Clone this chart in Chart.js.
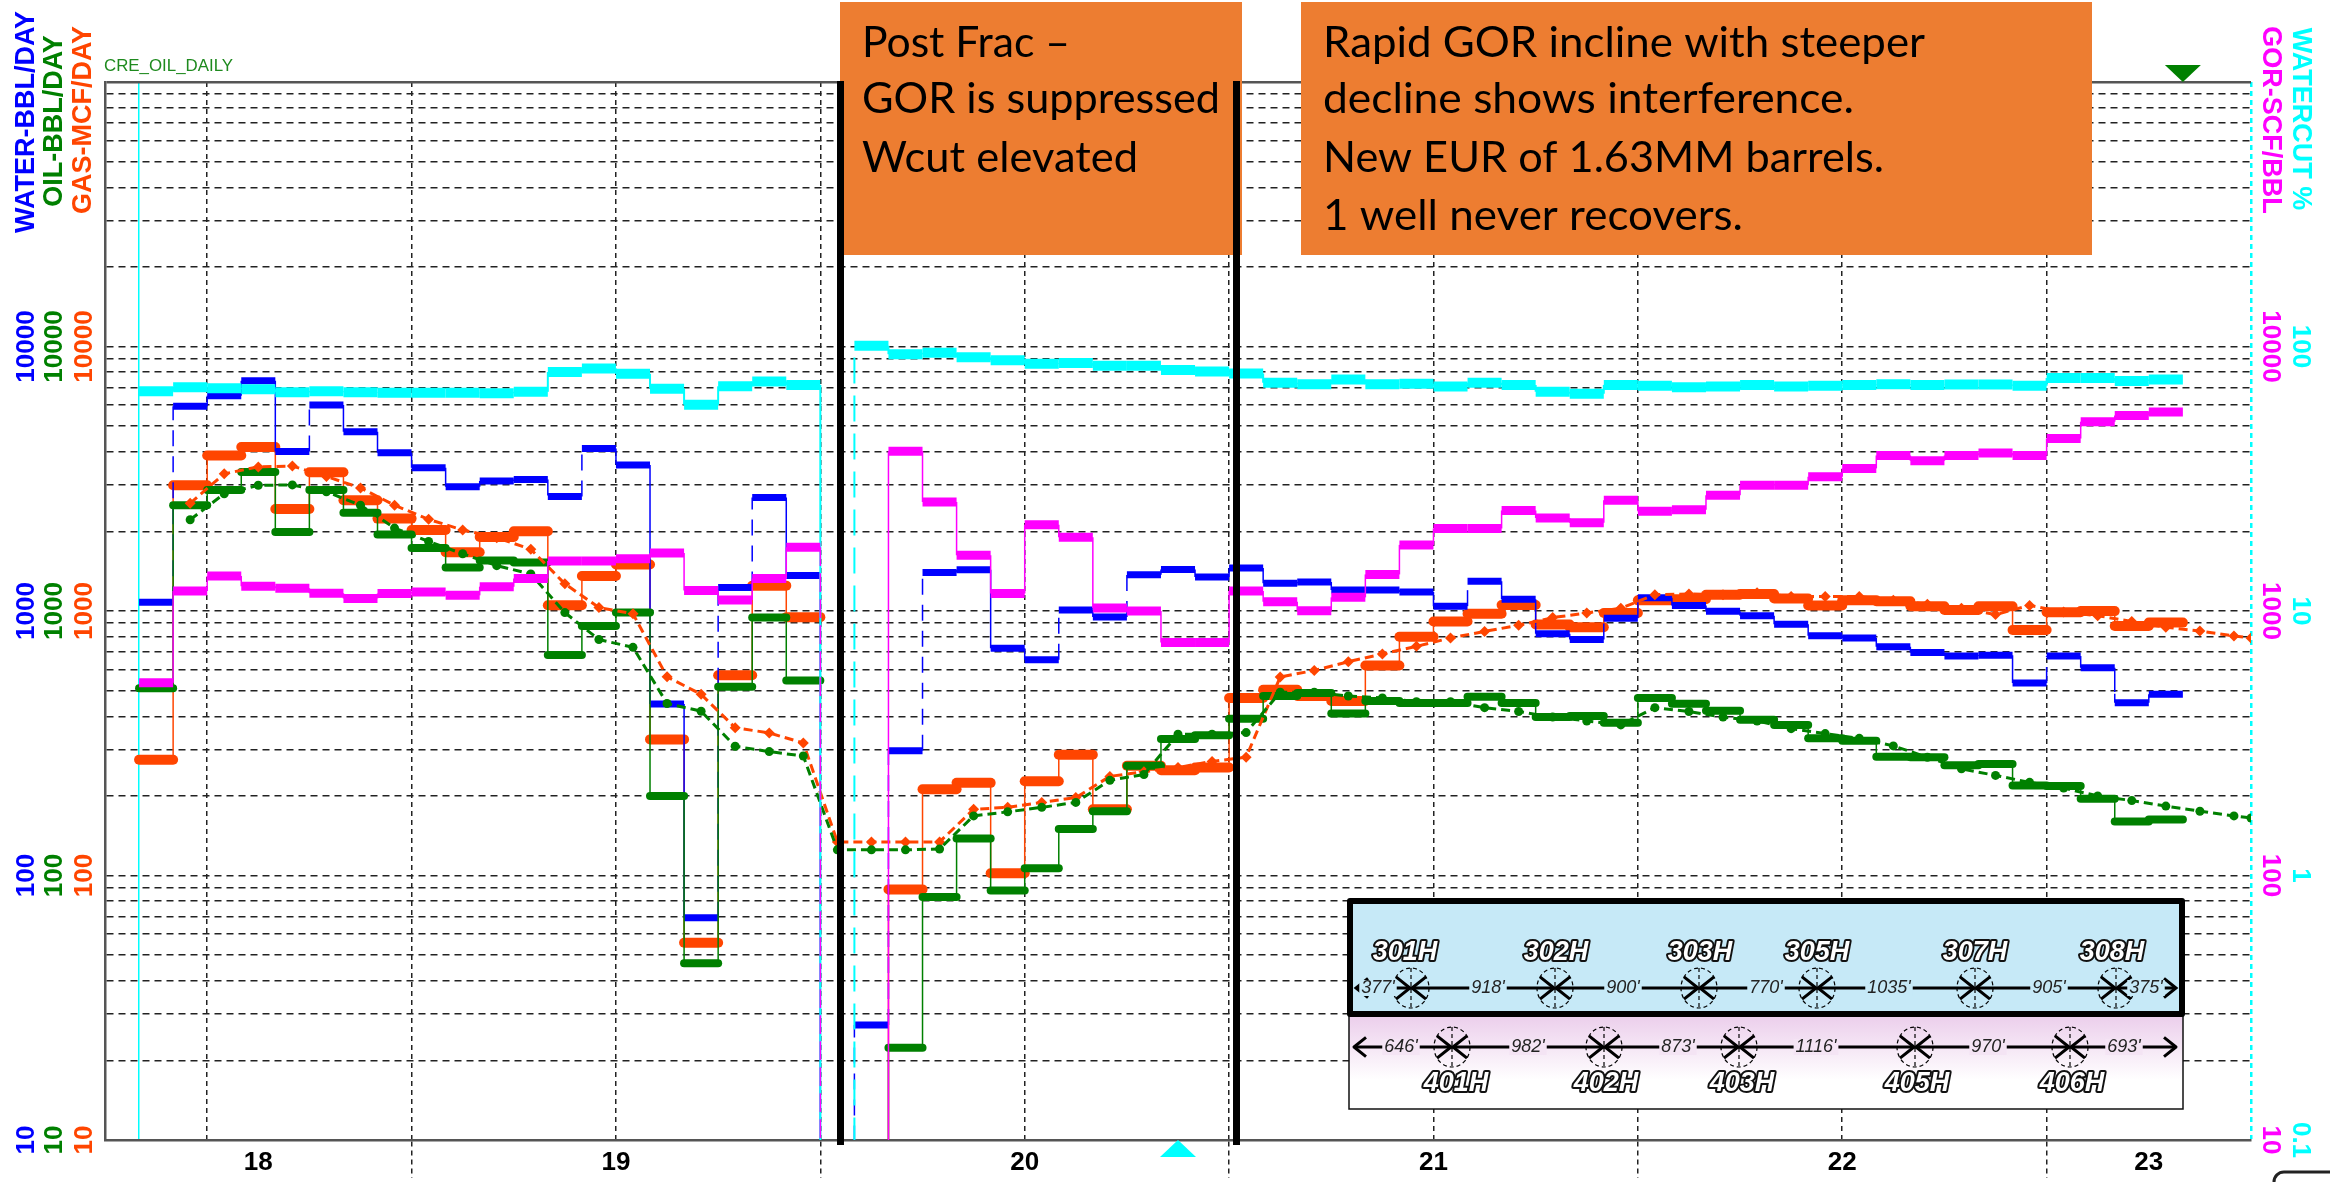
<!DOCTYPE html>
<html>
<head>
<meta charset="utf-8">
<title>Production history</title>
<script src="https://cdn.jsdelivr.net/npm/chart.js@4"></script>
<style>
  html, body { margin: 0; padding: 0; background: #fff; }
  canvas { display: block; }
</style>
</head>
<body>
<canvas id="chart" width="2330" height="1182"></canvas>
<script>
// x axis is counted in months from Jan 2018, one value per month from month 4 to 63
const firstMonth = 4;

// month 24 and some of month 25 sit below the axis, the line just drops off the chart
const water = [1080, 5940, 6520, 7420, 4005, 6015, 4764, 3966, 3482, 2949, 3101, 3141, 2712, 4115, 3565, 445, 69.2, 1226, 2686, 1361,
  5, 27.2, 296, 1398, 1431, 723, 654, 1009, 950, 1371, 1436, 1345, 1455, 1274, 1287, 1201, 1201, 1180, 1043, 1295, 1107, 821, 780, 938,
  1123, 1050, 997, 960, 891, 807, 791, 733, 697, 676, 681, 534, 676, 610, 450, 484];
const oil = [510, 2512, 2870, 3357, 1990, 2870, 2351, 1945, 1731, 1459, 1551, 1524, 682, 877, 986, 200, 46.6, 517, 944, 546,
  null, 5, 22.3, 83, 138, 87.8, 106.5, 150, 175, 260, 328, 339, 391, 477, 490, 410, 457, 449, 449, 474, 449, 397, 401, 378,
  469, 446, 420, 388, 371, 330, 323, 281, 280, 261, 264, 219, 218, 195, 160, 163];
const gas = [274, 2987, 3874, 4169, 2430, 3345, 2624, 2235, 2025, 1668, 1906, 2003, 1051, 1356, 1499, 327, 55.7, 572, 1247, 948,
  null, 5, 88.6, 212, 224, 102, 227, 286, 178, 260, 250, 256, 469, 504, 477, 457, 622, 799, 913, 976, 1054, 889, 868, 983,
  1097, 1107, 1152, 1160, 1115, 1050, 1097, 1089, 1043, 1009, 1043, 848, 989, 999, 878, 904];
const gor = [535, 1190, 1356, 1240, 1220, 1168, 1116, 1165, 1180, 1146, 1236, 1326, 1545, 1545, 1577, 1657, 1195, 1100, 1326, 1741,
  5, 5, 4019, 2583, 1624, 1165, 2121, 1899, 1026, 999, 760, 760, 1191, 1085, 1002, 1126, 1375, 1778, 2051, 2051, 2399, 2245, 2157, 2624,
  2382, 2415, 2740, 2989, 2989, 3217, 3460, 3874, 3700, 3874, 3954, 3874, 4488, 5196, 5483, 5649];
const waterCut = [67.8, 70.2, 69.5, 68.9, 67.1, 67.8, 67.1, 66.9, 66.9, 66.9, 66.5, 67.4, 80.1, 82.6, 78.8, 69.2, 60.2, 70.7, 73.7, 71.6,
  0.05, 100.6, 93.4, 94.7, 91, 88.8, 86, 86.6, 84.5, 84.5, 81.5, 80.4, 79.1, 73, 72, 75, 72, 72.3, 70.6, 73, 71.6, 67.4, 66.3, 71.6,
  71.1, 70.1, 70.6, 71.6, 70.6, 71.1, 71.6, 72, 71.6, 71.8, 71.8, 71.1, 76, 76, 74.1, 75];

// dashed trend curves, one marker mid month
const trendMonths = [5.5, 6.5, 7.5, 8.5, 9.5, 10.5, 11.5, 12.5, 13.5, 14.5, 15.5, 16.5, 17.5, 18.5, 19.5, 20.5, 21.5, 22.5, 23.5,
  24.5, 25.5, 26.5, 27.5, 28.5, 29.5, 30.5, 31.5, 32.5, 33.5, 34.5, 35.5, 36.5, 37.5, 38.5, 39.5, 40.5, 41.5, 42.5, 43.5, 44.5, 45.5, 46.5,
  47.5, 48.5, 49.5, 50.5, 51.5, 52.5, 53.5, 54.5, 55.5, 56.5, 57.5, 58.5, 59.5, 60.5, 61.5, 62.5, 63.5, 64.5, 65.5, 66];
const gasTrend = [2554, 3302, 3506, 3530, 3225, 2920, 2512, 2221, 2025, 1893, 1712, 1267, 1030, 976, 564, 484, 362, 346, 317,
  134, 134, 134, 134, 178, 181, 189, 197, 237, 247, 256, 270, 280, 563, 596, 643, 688, 735, 791, 837, 883, 944, 983,
  1025, 1152, 1160, 1152, 1172, 1134, 1134, 1134, 1097, 1061, 1025, 969, 1050, 992, 960, 913, 868, 840, 804, 791];
const oilTrend = [2214, 2776, 2987, 2997, 2823, 2512, 2058, 1831, 1646, 1484, 1380, 986, 780, 729, 447, 418, 308, 294, 283,
  125, 125, 125, 126, 168, 174, 181, 189, 229, 241, 342, 342, 347, 493, 493, 477, 469, 454, 454, 431, 417, 397, 384,
  371, 431, 417, 397, 384, 359, 344, 330, 309, 280, 253, 239, 225, 214, 200, 192, 183, 175, 168, 165];

// tick labels
const yearLabelMonths = [7.5, 18, 30, 42, 54, 63];
const yearLabels = ["18", "19", "20", "21", "22", "23"];
const halfYearMonths = [6, 12, 18, 24, 30, 36, 42, 48, 54, 60];
const rateDecades = [10, 100, 1000, 10000];
const cutDecades = [0.1, 1, 10, 100];
const rateGridValues = [10, 20, 30, 40, 50, 60, 70, 80, 90, 100, 200, 300, 400, 500, 600, 700, 800, 900, 1000,
  2000, 3000, 4000, 5000, 6000, 7000, 8000, 9000, 10000, 20000, 30000, 40000, 50000, 60000, 70000, 80000, 90000, 100000];

const BLUE = "#0000FF", GREEN = "#008000", ORANGE = "#FF4500", MAGENTA = "#FF00FF", CYAN = "#00FFFF";
const GRID = "#222222";

// each monthly value becomes a flat step from the start to the end of its month
function stepPoints(values) {
  const points = [];
  values.forEach((v, i) => {
    points.push({ x: firstMonth + i, y: v }, { x: firstMonth + i + 1, y: v });
  });
  return points;
}

function isRiser(ctx) {
  return ctx.p0.parsed.x === ctx.p1.parsed.x;
}

function stepDataset(label, values, axis, color, barWidth, riserStyle) {
  return {
    label: label,
    data: stepPoints(values),
    yAxisID: axis,
    borderColor: color,
    borderWidth: barWidth,
    borderCapStyle: riserStyle.cap || "butt",
    pointRadius: 0,
    clip: 0,
    segment: {
      borderWidth: ctx => isRiser(ctx) ? (riserStyle.width || 1.5) : barWidth,
      borderDash: ctx => isRiser(ctx) && riserStyle.dash ? riserStyle.dash(ctx) : []
    }
  };
}

function trendDataset(label, values, color, pointStyle, radius) {
  return {
    label: label,
    data: trendMonths.map((m, i) => ({ x: m, y: values[i] })),
    yAxisID: label === "Gas trend" ? "yGas" : "yOil",
    borderColor: color,
    backgroundColor: color,
    borderWidth: 3,
    borderDash: [9, 5],
    pointStyle: pointStyle,
    pointRadius: radius,
    pointBorderWidth: 0,
    clip: 0
  };
}

function yAxis(position, weight, width, color, min, max, decades, padding, extra) {
  return Object.assign({
    type: "logarithmic",
    position: position,
    weight: weight,
    min: min,
    max: max,
    afterBuildTicks: scale => { scale.ticks = decades.map(v => ({ value: v })); },
    afterFit: scale => { scale.width = width; },
    border: { display: false },
    grid: { drawOnChartArea: false, drawTicks: false },
    ticks: {
      autoSkip: false,
      color: color,
      crossAlign: "center",
      padding: padding,
      minRotation: position === "left" ? 90 : -90,
      maxRotation: position === "left" ? 90 : -90,
      font: { family: "Liberation Sans", size: 26, weight: "bold" },
      callback: v => decades.includes(v) ? String(v) : ""
    }
  }, extra);
}

// squeezes a line to the width it has in the picture
function fitText(ctx, text, x, baseline, width) {
  const w = ctx.measureText(text).width;
  ctx.save();
  ctx.translate(x, baseline);
  ctx.scale(width / w, 1);
  ctx.fillText(text, 0, 0);
  ctx.restore();
}

function rotatedText(ctx, text, x, y, angle, color) {
  ctx.save();
  ctx.translate(x, y);
  ctx.rotate(angle);
  ctx.fillStyle = color;
  ctx.textAlign = "center";
  ctx.textBaseline = "middle";
  ctx.font = "bold 27px 'Liberation Sans'";
  ctx.fillText(text, 0, 0);
  ctx.restore();
}

function triangle(ctx, x, yBase, yTip, half, color) {
  ctx.fillStyle = color;
  ctx.beginPath();
  ctx.moveTo(x - half, yBase);
  ctx.lineTo(x + half, yBase);
  ctx.lineTo(x, yTip);
  ctx.closePath();
  ctx.fill();
}

function arrowHead(ctx, x, y, dir, size) {
  ctx.beginPath();
  ctx.moveTo(x + dir * size, y - size * 0.8);
  ctx.lineTo(x, y);
  ctx.lineTo(x + dir * size, y + size * 0.8);
  ctx.stroke();
}

// lateral spacing sketch pasted over the lower right of the chart
function drawWellRow(ctx, row, bg) {
  ctx.strokeStyle = "#000";
  ctx.lineWidth = 3;
  ctx.beginPath();
  ctx.moveTo(row.from, row.y);
  ctx.lineTo(row.to, row.y);
  ctx.stroke();
  arrowHead(ctx, row.from, row.y, 1, 12);
  arrowHead(ctx, row.to, row.y, -1, 12);

  row.wells.forEach(w => {
    ctx.save();
    ctx.lineWidth = 1.2;
    ctx.setLineDash([4, 3]);
    ctx.beginPath();
    ctx.ellipse(w.x, row.y, 18, 20, 0, 0, Math.PI * 2);
    ctx.moveTo(w.x, row.y - 20);
    ctx.lineTo(w.x, row.y + 20);
    ctx.stroke();
    ctx.restore();
    ctx.lineWidth = 3;
    arrowHead(ctx, w.x - 1, row.y, -1, 14);
    arrowHead(ctx, w.x + 1, row.y, 1, 14);

    ctx.font = "italic bold 27px 'Liberation Sans'";
    ctx.textAlign = "center";
    ctx.textBaseline = "middle";
    ctx.lineWidth = 4;
    ctx.lineJoin = "round";
    ctx.strokeStyle = "#111";
    ctx.strokeText(w.name, w.labelX, row.labelY);
    ctx.fillStyle = "#fff";
    ctx.fillText(w.name, w.labelX, row.labelY);
    ctx.strokeStyle = "#000";
  });

  ctx.font = "italic 18px 'Liberation Sans'";
  ctx.textAlign = "center";
  ctx.textBaseline = "middle";
  row.gaps.forEach(g => {
    const w = ctx.measureText(g.text).width;
    ctx.fillStyle = bg;
    ctx.fillRect(g.x - w / 2 - 2, row.y - 8, w + 4, 16);
    ctx.fillStyle = "#222";
    ctx.fillText(g.text, g.x, row.y);
  });
}

const topWells = {
  y: 988, labelY: 953, from: 1356, to: 2176,
  wells: [
    { name: "301H", x: 1411, labelX: 1405 }, { name: "302H", x: 1555, labelX: 1556 }, { name: "303H", x: 1699, labelX: 1700 },
    { name: "305H", x: 1817, labelX: 1817 }, { name: "307H", x: 1975, labelX: 1975 }, { name: "308H", x: 2116, labelX: 2112 }
  ],
  gaps: [
    { text: "377'", x: 1378 }, { text: "918'", x: 1488 }, { text: "900'", x: 1623 }, { text: "770'", x: 1766 },
    { text: "1035'", x: 1889 }, { text: "905'", x: 2049 }, { text: "375'", x: 2146 }
  ]
};
const bottomWells = {
  y: 1047, labelY: 1084, from: 1354, to: 2176,
  wells: [
    { name: "401H", x: 1452, labelX: 1456 }, { name: "402H", x: 1604, labelX: 1606 }, { name: "403H", x: 1739, labelX: 1742 },
    { name: "405H", x: 1915, labelX: 1917 }, { name: "406H", x: 2070, labelX: 2072 }
  ],
  gaps: [
    { text: "646'", x: 1401 }, { text: "982'", x: 1528 }, { text: "873'", x: 1678 }, { text: "1116'", x: 1816 },
    { text: "970'", x: 1988 }, { text: "693'", x: 2124 }
  ]
};

const overlayPlugin = {
  id: "overlay",
  afterDraw(chart) {
    const ctx = chart.ctx;
    const x = chart.scales.x;

    // axis titles stand above the plot, in the same columns as the tick labels
    rotatedText(ctx, "WATER-BBL/DAY", 27, 122, -Math.PI / 2, BLUE);
    rotatedText(ctx, "OIL-BBL/DAY", 55, 121, -Math.PI / 2, GREEN);
    rotatedText(ctx, "GAS-MCF/DAY", 84, 120, -Math.PI / 2, ORANGE);
    rotatedText(ctx, "GOR-SCF/BBL", 2270, 120, Math.PI / 2, MAGENTA);
    rotatedText(ctx, "WATERCUT %", 2300, 119, Math.PI / 2, CYAN);

    ctx.fillStyle = "#1E8A1E";
    ctx.font = "16px 'Liberation Sans'";
    ctx.textAlign = "left";
    ctx.textBaseline = "alphabetic";
    fitText(ctx, "CRE_OIL_DAILY", 104, 71, 129);

    triangle(ctx, x.getPixelForValue(64), 65, 82, 18, GREEN);
    triangle(ctx, x.getPixelForValue(34.5), 1157, 1140, 18, CYAN);

    // callout boxes
    ctx.fillStyle = "#ED7D31";
    ctx.fillRect(840, 2, 402, 253);
    ctx.fillRect(1301, 2, 791, 253);
    ctx.fillStyle = "#000";
    ctx.font = "43px Lato";
    ctx.textAlign = "left";
    fitText(ctx, "Post Frac –", 862, 57, 208);
    fitText(ctx, "GOR is suppressed", 862, 113, 358);
    fitText(ctx, "Wcut elevated", 862, 172, 276);
    fitText(ctx, "Rapid GOR incline with steeper", 1323, 57, 602);
    fitText(ctx, "decline shows interference.", 1323, 113, 531);
    fitText(ctx, "New EUR of 1.63MM barrels.", 1323, 172, 561);
    fitText(ctx, "1 well never recovers.", 1323, 230, 420);

    // frac period markers
    ctx.fillStyle = "#000";
    ctx.fillRect(837, 81, 7, 1064);
    ctx.fillRect(1233, 81, 7, 1064);

    // well spacing sketch
    ctx.fillStyle = "#C6E9F7";
    ctx.fillRect(1349, 898, 834, 116);
    const fade = ctx.createLinearGradient(0, 1014, 0, 1080);
    fade.addColorStop(0, "#EBCDEB");
    fade.addColorStop(1, "#FFFFFF");
    ctx.fillStyle = fade;
    ctx.fillRect(1349, 1014, 834, 95);
    ctx.strokeStyle = "#111";
    ctx.lineWidth = 1.5;
    ctx.strokeRect(1349, 1014, 834, 95);
    drawWellRow(ctx, topWells, "#C6E9F7");
    drawWellRow(ctx, bottomWells, "#F4E4F4");
    ctx.strokeStyle = "#000";
    ctx.lineWidth = 6;
    ctx.strokeRect(1350, 901, 832, 113);

    // corner of the slide footer
    ctx.strokeStyle = "#222";
    ctx.lineWidth = 3;
    ctx.beginPath();
    ctx.moveTo(2274, 1182);
    ctx.arcTo(2274, 1172, 2290, 1172, 10);
    ctx.lineTo(2330, 1172);
    ctx.stroke();
  }
};

document.addEventListener("DOMContentLoaded", () => {
  const xGridValues = [4].concat(halfYearMonths, yearLabelMonths.filter(m => !halfYearMonths.includes(m)), [66]);

  new Chart(document.getElementById("chart").getContext("2d"), {
    type: "line",
    data: {
      datasets: [
        // first dataset is painted last
        stepDataset("GOR", gor, "yGor", MAGENTA, 9, { width: 1.5, dash: ctx => ctx.p0.parsed.x === 24 ? [10, 16] : [] }),
        stepDataset("Water cut", waterCut, "yCut", CYAN, 10, { width: 2, dash: ctx => ctx.p0.parsed.x === 25 ? [26, 12] : [] }),
        trendDataset("Oil trend", oilTrend, GREEN, "circle", 4.5),
        trendDataset("Gas trend", gasTrend, ORANGE, "rectRot", 5.5),
        stepDataset("Oil", oil, "yOil", GREEN, 8, { cap: "round", width: 1.5 }),
        stepDataset("Water", water, "yWater", BLUE, 7, { width: 1.5, dash: () => [16, 10] }),
        stepDataset("Gas", gas, "yGas", ORANGE, 10, { cap: "round", width: 1.5 })
      ]
    },
    options: {
      responsive: false,
      animation: false,
      layout: { padding: { top: 82 } },
      plugins: { legend: { display: false }, tooltip: { enabled: false } },
      scales: {
        x: {
          type: "linear",
          min: 3,
          max: 66,
          afterBuildTicks: scale => { scale.ticks = xGridValues.map(v => ({ value: v })); },
          afterFit: scale => {
            scale.height = 42;
            scale.paddingLeft = 0;
            scale.paddingRight = 0;
          },
          border: { display: true, color: "#555555", width: 2.5, dash: ctx => (ctx.tick && (ctx.tick.value === 4) ? [] : [5, 4]) },
          grid: {
            color: ctx => {
              const v = ctx.tick.value;
              if (v === 4 || v === 66) return CYAN;
              return halfYearMonths.includes(v) ? GRID : "rgba(0,0,0,0)";
            },
            lineWidth: ctx => (ctx.tick.value === 66 ? 2.5 : 1.5),
            tickColor: ctx => (ctx.tick && ctx.tick.value % 12 === 0 ? GRID : "rgba(0,0,0,0)"),
            tickBorderDash: [5, 4],
            tickLength: 38,
            tickWidth: 1.5
          },
          ticks: {
            autoSkip: false,
            maxRotation: 0,
            padding: -31,
            color: "#000",
            font: { family: "Liberation Sans", size: 26, weight: "bold" },
            callback: v => {
              const i = yearLabelMonths.indexOf(v);
              return i >= 0 ? yearLabels[i] : "";
            }
          }
        },
        yGas: yAxis("left", 1, 39, ORANGE, 10, 100000, rateDecades, -16.1, {
          afterBuildTicks: scale => { scale.ticks = rateGridValues.map(v => ({ value: v })); },
          border: { display: true, color: "#555555", width: 2.5, dash: ctx => (ctx.tick && ctx.tick.value === 100000 ? [] : [7, 5]) },
          grid: {
            drawOnChartArea: true,
            drawTicks: false,
            lineWidth: ctx => (ctx.tick.value === 100000 ? 2.5 : 1.5),
            color: ctx => (ctx.tick.value === 100000 ? "#555555" : GRID)
          }
        }),
        yOil: yAxis("left", 2, 28, GREEN, 10, 100000, rateDecades, -25.15),
        yWater: yAxis("left", 3, 38, BLUE, 10, 100000, rateDecades, -25.15),
        yGor: yAxis("right", 1, 37, MAGENTA, 10, 100000, rateDecades, -17.1),
        yCut: yAxis("right", 2, 42, CYAN, 0.1, 1000, cutDecades, -9.7)
      }
    },
    plugins: [overlayPlugin]
  });
});
</script>
</body>
</html>
